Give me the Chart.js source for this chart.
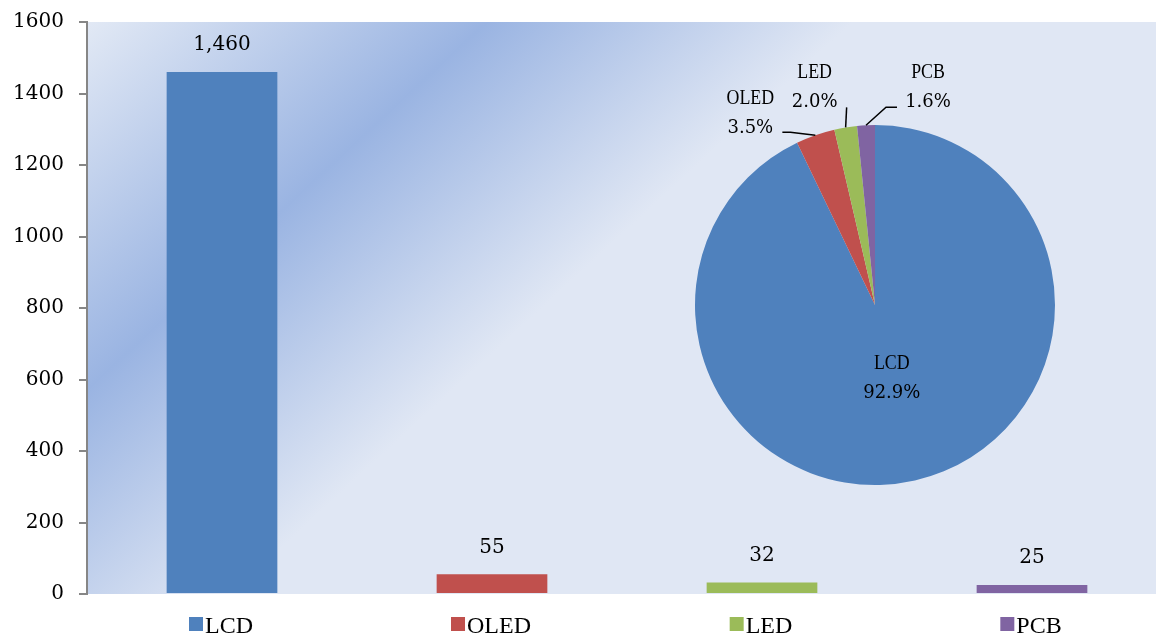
<!DOCTYPE html>
<html lang="zh">
<head>
<meta charset="UTF-8">
<title>LCD / OLED / LED / PCB</title>
<script src="https://cdn.jsdelivr.net/npm/chart.js@4"></script>
<style>
    html, body { margin: 0; padding: 0; background: #fff; overflow: hidden; }
    .wrap { position: relative; width: 1156px; height: 637px; overflow: hidden; }
    #barChart { position: absolute; left: 0; top: 0; }
    #pieChart { position: absolute; left: 655px; top: 40px; }
</style>
</head>
<body>
<div class="wrap">
    <canvas id="barChart" width="1170" height="637"></canvas>
    <canvas id="pieChart" width="440" height="465"></canvas>
</div>
<script>
const categories = ['LCD', 'OLED', 'LED', 'PCB'];
const values = [1460, 55, 32, 25];
const colors = ['#4f81bd', '#c0504d', '#9bbb59', '#8064a2'];
const yTicks = [0, 200, 400, 600, 800, 1000, 1200, 1400, 1600];

const total = values.reduce((a, b) => a + b, 0);
const pctLabels = values.map(v => (v / total * 100).toFixed(1) + '%');

// gradient behind the bar plot area
const plotBackground = {
    id: 'plotBackground',
    beforeDraw(chart) {
        const { ctx, chartArea: a } = chart;
        const nx = 0.677, ny = 0.736;
        const len = nx * (a.right - a.left) + ny * (a.bottom - a.top);
        const g = ctx.createLinearGradient(a.left, a.top, a.left + nx * len, a.top + ny * len);
        g.addColorStop(0, '#e2e9f5');
        g.addColorStop(0.235, '#9ab4e2');
        g.addColorStop(0.45, '#e0e7f4');
        g.addColorStop(1, '#e0e7f4');
        ctx.save();
        ctx.fillStyle = g;
        ctx.fillRect(a.left, a.top, a.right - a.left, a.bottom - a.top);
        ctx.restore();
    }
};

const barValueLabels = {
    id: 'barValueLabels',
    afterDatasetsDraw(chart) {
        const ctx = chart.ctx;
        ctx.save();
        ctx.font = '20px "DejaVu Serif"';
        ctx.fillStyle = '#000';
        ctx.textAlign = 'center';
        ctx.textBaseline = 'middle';
        chart.getDatasetMeta(0).data.forEach((bar, i) => {
            ctx.fillText(values[i].toLocaleString('en-US'), bar.x, bar.y - 27);
        });
        ctx.restore();
    }
};

// little colour keys in front of the category names
const xKeySquares = {
    id: 'xKeySquares',
    afterDraw(chart) {
        const x = chart.scales.x, ctx = chart.ctx;
        ctx.save();
        ctx.font = '24px "Liberation Serif"';
        categories.forEach((c, i) => {
            const px = x.getPixelForValue(i) + 7;
            const w = ctx.measureText(c).width;
            ctx.fillStyle = colors[i];
            ctx.fillRect(px - w / 2 - 16, chart.chartArea.bottom + 23, 14, 14);
        });
        ctx.restore();
    }
};

new Chart(document.getElementById('barChart'), {
    type: 'bar',
    data: {
        labels: categories,
        datasets: [{ data: values, backgroundColor: colors, categoryPercentage: 1, barPercentage: 0.41 }]
    },
    options: {
        responsive: false,
        animation: false,
        layout: { padding: { top: 22, right: 3, left: 0, bottom: 0 } },
        plugins: { legend: { display: false }, tooltip: { enabled: false } },
        scales: {
            x: {
                grid: { display: false, drawTicks: false },
                border: { display: false },
                ticks: { color: '#000', font: { family: 'Liberation Serif', size: 24 }, padding: 18, labelOffset: 7 },
                afterFit(s) { s.height = 43; }
            },
            y: {
                min: 0, max: 1600,
                afterBuildTicks(s) { s.ticks = yTicks.map(v => ({ value: v })); },
                grid: { drawOnChartArea: false, drawTicks: true, tickLength: 8, color: '#868686', lineWidth: 2 },
                border: { display: true, color: '#868686', width: 2 },
                ticks: {
                    color: '#000', font: { family: 'DejaVu Serif', size: 20 }, padding: 15,
                    callback: v => String(v)
                },
                afterFit(s) { s.width = 87; s.paddingTop = 0; s.paddingBottom = 0; }
            }
        }
    },
    plugins: [plotBackground, barValueLabels, xKeySquares]
});

// pie labels: LCD inside, the small ones outside with leader lines
const callouts = [
    null,
    { dx: -65, dy: -22, line: [[-25, -3], [-33, -3]] },
    { dx: -31, dy: -40, line: [[1, -20]] },
    { dx: 62, dy: -38, line: [[20, -18], [31, -18]] }
];

function drawWord(ctx, text, x, y) {
    ctx.save();
    ctx.translate(x, y);
    ctx.scale(0.85, 1);
    ctx.font = '21px "Liberation Serif"';
    ctx.fillText(text, 0, 0);
    ctx.restore();
}

const pieLabels = {
    id: 'pieLabels',
    afterDatasetsDraw(chart) {
        const ctx = chart.ctx;
        ctx.save();
        ctx.fillStyle = '#000';
        ctx.strokeStyle = '#000';
        ctx.lineWidth = 1.5;
        ctx.textAlign = 'center';
        ctx.textBaseline = 'middle';
        chart.getDatasetMeta(0).data.forEach((arc, i) => {
            const mid = (arc.startAngle + arc.endAngle) / 2;
            const c = callouts[i];
            let lx, ly;
            if (!c) {
                const r = arc.outerRadius * 0.42;
                lx = arc.x + r * Math.cos(mid);
                ly = arc.y + r * Math.sin(mid);
            } else {
                const ax = arc.x + arc.outerRadius * Math.cos(mid);
                const ay = arc.y + arc.outerRadius * Math.sin(mid);
                ctx.beginPath();
                ctx.moveTo(ax, ay);
                c.line.forEach(([dx, dy]) => ctx.lineTo(ax + dx, ay + dy));
                ctx.stroke();
                lx = ax + c.dx;
                ly = ay + c.dy;
            }
            drawWord(ctx, categories[i], lx, ly - 15);
            ctx.font = '18px "DejaVu Serif"';
            ctx.fillText(pctLabels[i], lx, ly + 15);
        });
        ctx.restore();
    }
};

new Chart(document.getElementById('pieChart'), {
    type: 'pie',
    data: {
        labels: categories,
        datasets: [{ data: values, backgroundColor: colors, borderWidth: 0 }]
    },
    options: {
        responsive: false,
        animation: false,
        layout: { padding: { top: 85, bottom: 20, left: 40, right: 40 } },
        plugins: { legend: { display: false }, tooltip: { enabled: false } }
    },
    plugins: [pieLabels]
});
</script>
</body>
</html>
